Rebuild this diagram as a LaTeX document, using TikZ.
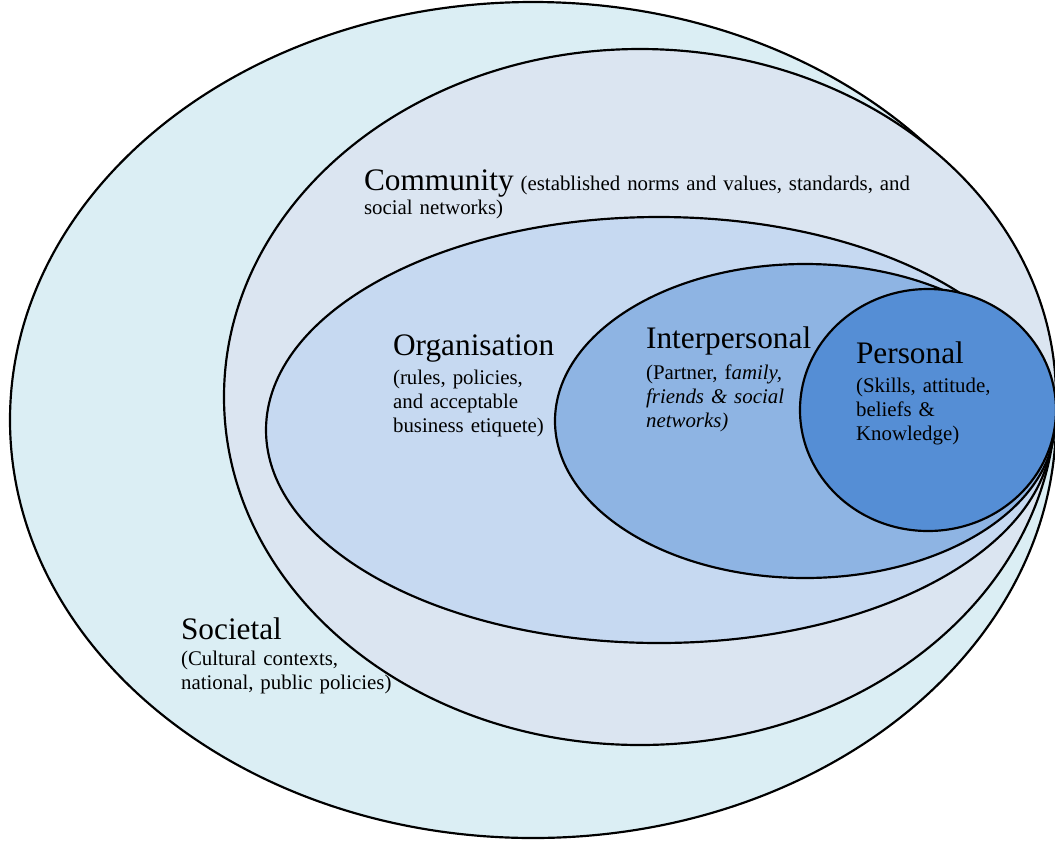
\documentclass[tikz,border=0pt]{standalone}
\usepackage{fontspec}
\setmainfont{Liberation Serif}
\usetikzlibrary{positioning}

\definecolor{societal}{HTML}{DBEEF4}
\definecolor{community}{HTML}{DBE5F1}
\definecolor{organisation}{HTML}{C6D9F1}
\definecolor{interpersonal}{HTML}{8EB4E3}
\definecolor{personal}{HTML}{558ED5}

\begin{document}
\begin{tikzpicture}[x=0.575pt, y=-0.575pt, line width=1.25pt,
    ring/.style={draw=black, fill=#1},
    lvl/.style={anchor=base west, inner sep=0pt, align=left, text width=#1,
        font=\fontsize{12}{13.8}\selectfont}]
    \useasboundingbox (0,0) rectangle (1055,841);

    % levels, outside in
    \draw[ring=societal]      (533,420) ellipse [x radius=523, y radius=418];
    \draw[ring=community]     (640,397) ellipse [x radius=416, y radius=348];
    \draw[ring=organisation]  (659,430) ellipse [x radius=393, y radius=213];
    \draw[ring=interpersonal] (805,421) ellipse [x radius=250, y radius=157];
    \draw[ring=personal]      (928,410) ellipse [x radius=128, y radius=121];

    % texts
    \node[lvl=340pt] (comm) at (363,190)
        {{\fontsize{18}{20.7}\selectfont Community} (established norms and values, standards, and\\social networks)};
    \node[lvl=120pt] (org) at (392,355)
        {{\fontsize{18}{20.7}\selectfont Organisation}\\[3.4pt](rules, policies,\\and acceptable\\business etiquete)};
    \node[lvl=100pt] (inter) at (645,348)
        {{\fontsize{18}{20.7}\selectfont Interpersonal}\\[4.4pt](Partner, f\textit{amily,}\\\textit{friends \& social}\\\textit{networks)}};
    \node[lvl=100pt] (pers) at (855,363)
        {{\fontsize{18}{20.7}\selectfont Personal}\\[3pt](Skills, attitude,\\beliefs \&\\Knowledge)};
    \node[lvl=150pt] (soc) at (180,639)
        {{\fontsize{18}{20.7}\selectfont Societal}\\[1.4pt](Cultural contexts,\\national, public policies)};
\end{tikzpicture}
\end{document}
